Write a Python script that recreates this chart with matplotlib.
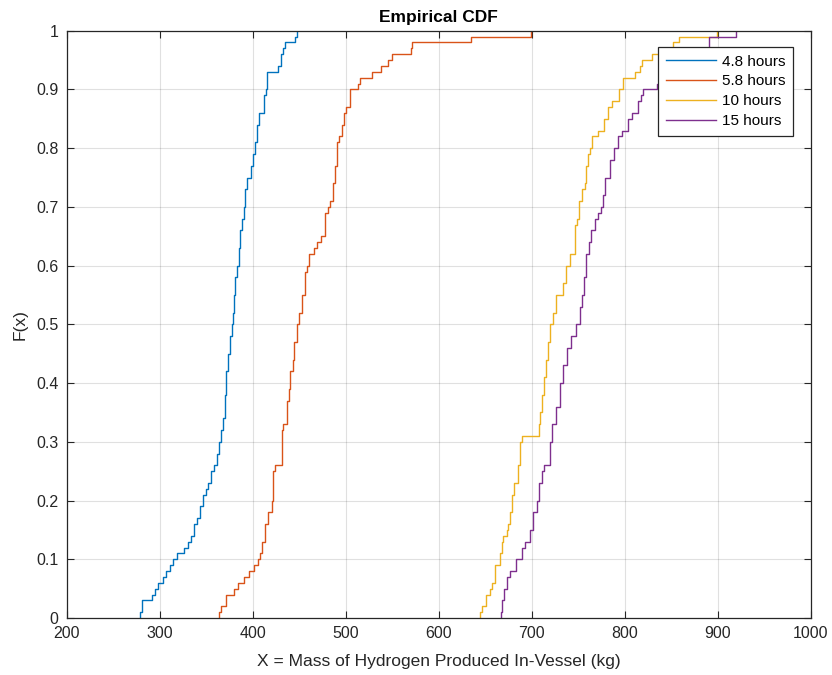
import matplotlib
matplotlib.use("Agg")
import matplotlib.pyplot as plt

# step points (x where F jumps, F after the jump)
blue_x = [278.5, 280.5, 291, 295, 298, 303, 306, 311, 314, 318, 326, 330, 333, 337, 340,
          343, 346, 349, 352, 355, 358, 361, 363, 366, 368, 370, 371, 373, 375, 377, 379,
          380, 381, 383, 385, 386, 388, 390, 392, 394, 398, 400, 402, 404, 407, 412, 414,
          415.5, 427, 430, 432, 434.5, 445, 447.6]
blue_F = [0.01, 0.03, 0.04, 0.05, 0.06, 0.07, 0.08, 0.09, 0.10, 0.11, 0.12, 0.13, 0.14, 0.16,
          0.17, 0.19, 0.21, 0.22, 0.23, 0.25, 0.26, 0.28, 0.30, 0.32, 0.34, 0.38, 0.42, 0.45,
          0.48, 0.50, 0.52, 0.55, 0.58, 0.60, 0.63, 0.66, 0.68, 0.70, 0.73, 0.75, 0.77, 0.79,
          0.81, 0.84, 0.86, 0.89, 0.90, 0.93, 0.94, 0.96, 0.97, 0.98, 0.99, 1.00]

orange_x = [364, 366, 371, 380, 384, 390, 396, 401, 405, 407.5, 409.3, 412.9, 416.5, 420,
            421.8, 423.6, 430.8, 432, 436.2, 439, 440, 442.6, 444.4, 447, 450, 452.4, 455.9,
            457.7, 460.6, 465.6, 468.5, 472.8, 477.4, 481, 482.8, 486.4, 488, 490, 492.9,
            495.4, 497.9, 500, 504.3, 513.3, 515.5, 527.6, 537.3, 545, 550, 569.6, 571.5,
            635, 698.6]
orange_F = [0.01, 0.02, 0.04, 0.05, 0.06, 0.07, 0.08, 0.09, 0.10, 0.11, 0.13, 0.16, 0.18,
            0.20, 0.25, 0.26, 0.32, 0.33, 0.37, 0.39, 0.42, 0.44, 0.47, 0.50, 0.52, 0.55,
            0.59, 0.60, 0.62, 0.63, 0.64, 0.65, 0.69, 0.70, 0.71, 0.74, 0.77, 0.81, 0.82,
            0.84, 0.86, 0.87, 0.90, 0.91, 0.92, 0.93, 0.94, 0.95, 0.96, 0.97, 0.98, 0.99, 1.00]

yellow_x = [644.1, 645.9, 650.5, 654.5, 657, 660.2, 665.6, 667.4, 669.2, 672.8, 674.6, 677,
            679, 681, 685.3, 687.1, 689.5, 707.5, 709, 711, 713, 715, 717, 720, 723, 726.5,
            733, 737.2, 740.8, 746.5, 748.7, 750.8, 753.4, 757, 758.7, 760.5, 763, 765.2,
            771.3, 778, 782, 786, 794, 798, 811, 816, 818, 829, 852, 858, 899]
yellow_F = [0.01, 0.02, 0.04, 0.05, 0.06, 0.09, 0.11, 0.13, 0.14, 0.15, 0.16, 0.18, 0.21,
            0.23, 0.26, 0.30, 0.31, 0.33, 0.35, 0.38, 0.41, 0.44, 0.47, 0.50, 0.52, 0.55,
            0.57, 0.60, 0.62, 0.67, 0.68, 0.71, 0.73, 0.74, 0.77, 0.79, 0.80, 0.82, 0.83,
            0.85, 0.87, 0.88, 0.90, 0.92, 0.93, 0.94, 0.95, 0.96, 0.98, 0.99, 1.00]

purple_x = [666.7, 668, 670.3, 672.8, 676.4, 682.5, 689, 692.5, 698, 701, 705, 707.5, 711,
            713, 719, 722, 726, 730, 734, 738, 742, 747, 751.6, 753.4, 756, 758.7, 761.6,
            764.1, 767.7, 771.3, 774, 776, 779, 784, 788, 793, 797, 803, 808, 814, 817, 820,
            835, 845, 860, 875, 890, 920]
purple_F = [0.01, 0.03, 0.05, 0.07, 0.08, 0.10, 0.12, 0.13, 0.15, 0.18, 0.20, 0.23, 0.25,
            0.26, 0.30, 0.33, 0.36, 0.40, 0.43, 0.46, 0.48, 0.50, 0.53, 0.55, 0.58, 0.62,
            0.64, 0.66, 0.68, 0.69, 0.70, 0.72, 0.75, 0.78, 0.80, 0.82, 0.83, 0.85, 0.86,
            0.88, 0.89, 0.90, 0.91, 0.93, 0.95, 0.97, 0.99, 1.00]

labels = ["4.8 hours", "5.8 hours", "10 hours", "15 hours"]
colors = ["#0072BD", "#D95319", "#EDB120", "#7E2F8E"]

plt.rcParams['font.family'] = ['Liberation Sans', 'DejaVu Sans']

fig = plt.figure(figsize=(8.32, 6.75), dpi=100)
ax = fig.add_axes([0.0805, 0.0844, 0.894, 0.8701])

series = [(blue_x, blue_F), (orange_x, orange_F), (yellow_x, yellow_F), (purple_x, purple_F)]
for (xs, fs), lab, col in zip(series, labels, colors):
    # start each staircase on the x axis
    ax.plot([xs[0]] + xs, [0.0] + fs, drawstyle='steps-post', color=col, linewidth=1.0, label=lab)

ax.set_xlim(200, 1000)
ax.set_ylim(0, 1)
ax.set_xticks(range(200, 1001, 100))
ax.set_yticks([i / 10 for i in range(11)])
ax.set_yticklabels(["0", "0.1", "0.2", "0.3", "0.4", "0.5", "0.6", "0.7", "0.8", "0.9", "1"])

ax.tick_params(direction='in', top=True, right=True, length=5, width=0.8,
               colors='#262626', labelsize=11.5, pad=6)
ax.grid(True, color='#000000', alpha=0.12, linewidth=0.8)
for s in ax.spines.values():
    s.set_color('#262626')
    s.set_linewidth(0.9)

ax.set_xlabel("X = Mass of Hydrogen Produced In-Vessel (kg)", fontsize=12.5, color='#262626', labelpad=9)
ax.set_ylabel("F(x)", fontsize=12.5, color='#262626', labelpad=6)
ax.set_title("Empirical CDF", fontsize=12.5, fontweight='bold', pad=6)

leg = ax.legend(loc='upper right', bbox_to_anchor=(0.9758, 0.9722), fontsize=11, fancybox=False,
                framealpha=1, edgecolor='#262626', handlelength=3.3, borderpad=0.5,
                labelspacing=0.38, handletextpad=0.35, borderaxespad=0.0)
leg.get_frame().set_linewidth(0.9)

fig.savefig("out.png", dpi=100)
